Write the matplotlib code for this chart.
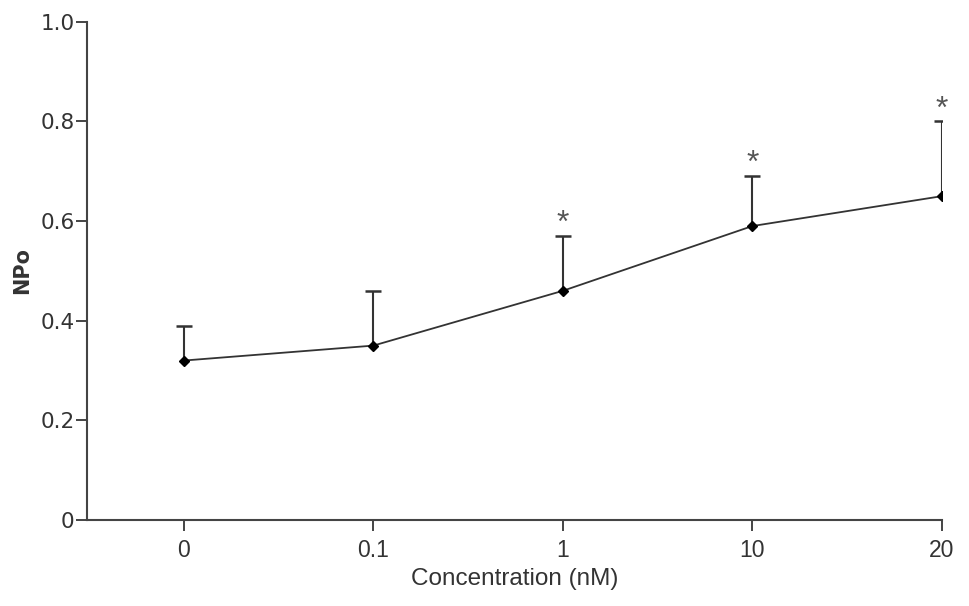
import matplotlib
matplotlib.use("Agg")
import matplotlib.pyplot as plt
import numpy as np

categories = ["0", "0.1", "1", "10", "20"]
npo_mean = [0.32, 0.35, 0.46, 0.59, 0.65]
npo_err_upper = [0.07, 0.11, 0.11, 0.10, 0.15]
significant = [False, False, True, True, True]

plt.rcParams['font.family'] = ['Liberation Sans', 'DejaVu Sans']

fig = plt.figure(figsize=(9.69, 6.06), dpi=100)
ax = fig.add_axes([0.090, 0.142, 0.882, 0.822])

x = np.arange(len(categories))
mean = np.array(npo_mean)
top = mean + np.array(npo_err_upper)
col = "#333333"

ax.vlines(x, mean, top, colors=col, lw=1.5, zorder=2)
ax.plot(x, top, ls='none', marker='_', ms=11, mew=1.8, color=col, zorder=2)
ax.plot(x, mean, color=col, lw=1.3, marker='D', ms=5, mfc='black', mec='black', zorder=3)

for xi, t, s in zip(x, top, significant):
    if s:
        ax.text(xi, t - 0.006, "*", ha='center', va='bottom', fontsize=23, color='#555555')

ax.set_xlim(-0.51, 4)
ax.set_ylim(0, 1.0)
ax.set_xticks(x)
ax.set_xticklabels(categories, fontsize=16.5, fontfamily=['Liberation Sans'])
ax.set_yticks([0, 0.2, 0.4, 0.6, 0.8, 1.0])
ax.set_yticklabels(["0", "0.2", "0.4", "0.6", "0.8", "1.0"], fontsize=15.5,
                   fontfamily=['DejaVu Sans'])

for sp in ['top', 'right']:
    ax.spines[sp].set_visible(False)
for sp in ['left', 'bottom']:
    ax.spines[sp].set_color('#444444')
    ax.spines[sp].set_linewidth(1.5)

ax.tick_params(axis='both', direction='out', length=8, width=1.4, colors='#444444',
               labelcolor='#333333')
ax.tick_params(axis='y', pad=1)
ax.tick_params(axis='x', pad=6)
ax.set_xlabel("Concentration (nM)", fontsize=17.5, color='#333333', labelpad=4)
ax.set_ylabel("NPo", fontsize=15, fontweight='bold', color='#333333', labelpad=6,
              fontfamily=['DejaVu Sans'])

fig.savefig("out.png", dpi=100)
